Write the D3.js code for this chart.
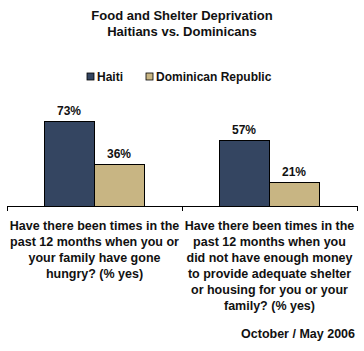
<!DOCTYPE html>
<html>
<head>
<meta charset="utf-8">
<script src="https://cdn.jsdelivr.net/npm/d3@7"></script>
<style>
  html, body { margin: 0; padding: 0; background: #fff; }
  text { font-family: "Liberation Sans", Arial, sans-serif; font-weight: bold; fill: #111; }
</style>
</head>
<body>
<div id="container"></div>
<script>
const width = 364, height = 351;

// --- Data ---
const categories = ["hungry", "shelter"];
const categoryLines = [
  ["Have there been times in the", "past 12 months when you or", "your family have gone", "hungry? (% yes)"],
  ["Have there been times in the", "past 12 months when you", "did not have enough money", "to provide adequate shelter", "or housing for you or your", "family? (% yes)"],
];
const seriesNames = ["Haiti", "Dominican Republic"];
const haiti = [73, 57];
const dominican = [36, 21];
const seriesColors = ["#344561", "#C8B583"];

const svg = d3.select("#container").append("svg").attr("width", width).attr("height", height);

// --- Title ---
const title = svg.append("text").attr("text-anchor", "middle").style("font-size", "13px");
title.append("tspan").attr("x", 182).attr("y", 20).text("Food and Shelter Deprivation");
title.append("tspan").attr("x", 182).attr("y", 36).text("Haitians vs. Dominicans");

// --- Legend ---
const legendX = [87, 146];
const legend = svg.selectAll("g.legend").data(seriesNames).join("g")
  .attr("transform", (d, i) => `translate(${legendX[i]},73)`);
legend.append("rect").attr("width", 7).attr("height", 7)
  .attr("fill", (d, i) => seriesColors[i]).attr("stroke", "#000").attr("stroke-width", 0.8);
legend.append("text").attr("x", 10).attr("y", 8).style("font-size", "12px").text(d => d);

// --- Scales ---
const x0 = d3.scaleBand().domain(categories).range([7, 357]);
const x1 = d3.scaleBand().domain(seriesNames).range([37, 137]);
const y = d3.scaleLinear().domain([0, 100]).range([206, 89.5]);

const rows = categories.map((c, i) => ({ cat: c, vals: [haiti[i], dominican[i]] }));

const groups = svg.selectAll("g.grp").data(rows).join("g")
  .attr("transform", d => `translate(${x0(d.cat)},0)`);

groups.selectAll("rect").data(d => d.vals.map((v, j) => ({ v, s: seriesNames[j], j })))
  .join("rect")
  .attr("x", d => x1(d.s) + 0.5)
  .attr("y", d => Math.round(y(d.v)) + 0.5)
  .attr("width", x1.bandwidth())
  .attr("height", d => 206 - Math.round(y(d.v)))
  .attr("fill", d => seriesColors[d.j])
  .attr("stroke", "#000").attr("stroke-width", 1);

groups.selectAll("text.val").data(d => d.vals.map((v, j) => ({ v, s: seriesNames[j] })))
  .join("text").attr("class", "val")
  .attr("x", d => x1(d.s) + x1.bandwidth() / 2)
  .attr("y", d => y(d.v) - 6)
  .attr("text-anchor", "middle")
  .style("font-size", "12px")
  .text(d => d.v + "%");

// --- Axis ---
const axis = svg.append("g").attr("transform", "translate(0,206)")
  .call(d3.axisBottom(x0).tickValues([]).tickSizeOuter(0));
axis.select(".domain").attr("stroke", "#000").attr("d", "M7.5,0.5H357.5");
[7, 182, 357].forEach(xx => {
  axis.append("line").attr("x1", xx + 0.5).attr("x2", xx + 0.5).attr("y1", 0).attr("y2", 5).attr("stroke", "#000");
});

// --- Category labels ---
const labelG = svg.selectAll("text.cat").data(categories).join("text").attr("class", "cat")
  .attr("text-anchor", "middle").style("font-size", "12.5px");
labelG.each(function (d, i) {
  const cx = x0(d) + x0.bandwidth() / 2;
  d3.select(this).selectAll("tspan").data(categoryLines[i]).join("tspan")
    .attr("x", cx).attr("y", (l, k) => 230 + k * 16).text(l => l);
});

// --- Footer ---
svg.append("text").attr("x", 355).attr("y", 338).attr("text-anchor", "end")
  .style("font-size", "12.5px").text("October / May 2006");
</script>
</body>
</html>
